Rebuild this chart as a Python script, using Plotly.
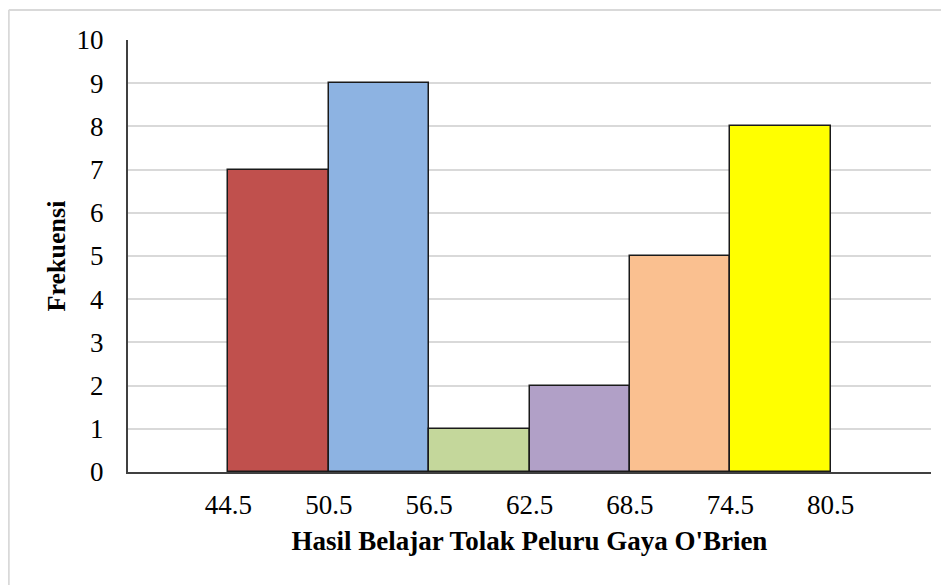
import plotly.graph_objects as go

# Data
lower_bounds = [44.5, 50.5, 56.5, 62.5, 68.5, 74.5]
upper_bounds = [50.5, 56.5, 62.5, 68.5, 74.5, 80.5]
frequencies = [7, 9, 1, 2, 5, 8]
bar_colors = ["#C0504D", "#8DB3E2", "#C4D79B", "#B1A0C7", "#FAC090", "#FFFF00"]
tick_labels = ["44.5", "50.5", "56.5", "62.5", "68.5", "74.5", "80.5"]
tick_values = [44.5, 50.5, 56.5, 62.5, 68.5, 74.5, 80.5]

centers = [(a + b) / 2 for a, b in zip(lower_bounds, upper_bounds)]
widths = [b - a for a, b in zip(lower_bounds, upper_bounds)]

font_family = "Liberation Serif, Times New Roman, serif"

fig = go.Figure()
fig.add_trace(go.Bar(
    x=centers,
    y=frequencies,
    width=widths,
    marker=dict(color=bar_colors, line=dict(color="#1a1a1a", width=1.5)),
    hoverinfo="x+y",
))

fig.update_layout(
    width=941,
    height=577,
    margin=dict(l=120, r=18, t=32, b=113),
    paper_bgcolor="white",
    plot_bgcolor="white",
    showlegend=False,
    bargap=0,
    font=dict(family=font_family, color="black", size=27),
    xaxis=dict(
        range=[38.5, 86.5],
        tickvals=tick_values,
        ticktext=tick_labels,
        showgrid=False,
        zeroline=False,
        showline=True,
        linecolor="#404040",
        linewidth=2,
        ticks="",
        ticklabelstandoff=8,
        tickfont=dict(size=27, family=font_family),
        title=dict(text="<b>Hasil Belajar Tolak Peluru Gaya O'Brien</b>",
                   font=dict(size=27, family=font_family), standoff=12),
    ),
    yaxis=dict(
        range=[0, 10],
        dtick=1,
        showgrid=True,
        gridcolor="#D9D9D9",
        gridwidth=1.5,
        zeroline=False,
        showline=True,
        linecolor="#404040",
        linewidth=2,
        ticks="",
        ticklabelstandoff=17,
        tickfont=dict(size=27, family=font_family),
        title=dict(text="<b>Frekuensi</b>",
                   font=dict(size=26, family=font_family), standoff=3),
    ),
    shapes=[
        dict(type="line", xref="paper", yref="paper",
             x0=-0.1485, x1=1.05, y0=1.0694, y1=1.0694,
             line=dict(color="#D9D9D9", width=2)),
        dict(type="line", xref="paper", yref="paper",
             x0=-0.1485, x1=-0.1485, y0=1.0694, y1=-0.3,
             line=dict(color="#D9D9D9", width=2)),
    ],
)

fig.write_html("out.html")
